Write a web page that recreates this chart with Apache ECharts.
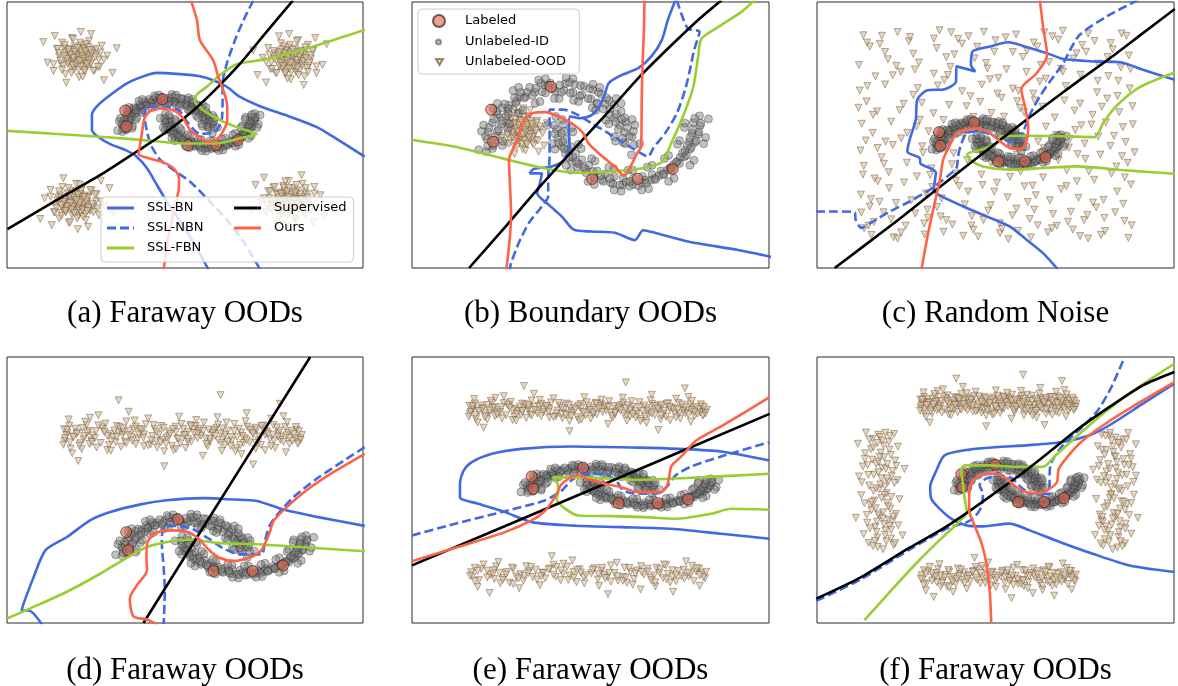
<!DOCTYPE html>
<html><head><meta charset="utf-8">
<script src="https://cdn.jsdelivr.net/npm/echarts@6/dist/echarts.min.js"></script>
<style>html,body{margin:0;padding:0;background:#fff}#chart{width:1178px;height:686px}</style>
</head><body><div id="chart"></div>
<script>
// ---------------- DATA (two-moons coordinates) ----------------
const captions = ['(a) Faraway OODs','(b) Boundary OODs','(c) Random Noise','(d) Faraway OODs','(e) Faraway OODs','(f) Faraway OODs'];
const methodNames = ['SSL-BN','SSL-NBN','SSL-FBN','Supervised','Ours'];

const moonUpper = [[1.05,-0.08],[0.93,0.12],[1.06,0.21],[0.95,0.28],[1.02,0.22],[0.88,0.40],[0.97,0.45],[0.80,0.52],[0.91,0.49],[0.74,0.66],[0.83,0.58],[0.67,0.74],[0.72,0.80],[0.55,0.76],[0.61,0.90],[0.46,0.82],[0.49,0.97],[0.33,0.89],[0.36,1.03],[0.20,0.93],[0.22,1.06],[0.07,0.96],[0.09,1.07],[-0.06,0.95],[-0.13,1.08],[-0.20,0.92],[-0.21,1.05],[-0.36,0.93],[-0.34,1.00],[-0.49,0.86],[-0.47,0.93],[-0.62,0.79],[-0.58,0.86],[-0.73,0.72],[-0.67,0.66],[-0.83,0.68],[-0.77,0.55],[-0.90,0.57],[-0.84,0.42],[-0.97,0.44],[-0.90,0.30],[-1.03,0.29],[-0.94,0.16],[-1.05,0.17],[-0.97,0.02],[-1.06,-0.03],
[0.96,0.10],[1.09,0.08],[0.92,0.19],[1.08,0.30],[0.99,0.36],[0.86,0.33],[0.95,0.52],[0.82,0.45],[0.90,0.62],[0.73,0.57],[0.80,0.73],[0.64,0.66],[0.69,0.84],[0.55,0.74],[0.57,0.93],[0.42,0.83],[0.44,0.99],[0.30,0.87],[0.31,1.04],[0.16,0.92],[0.15,1.09],[0.03,0.93],[0.01,1.05],[-0.09,0.99],[-0.16,1.04],[-0.25,0.94],[-0.27,1.08],[-0.39,0.88],[-0.43,1.01],[-0.51,0.84],[-0.56,0.93],[-0.63,0.76],[-0.65,0.84],[-0.74,0.67],[-0.79,0.74],[-0.74,0.58],[-0.91,0.62],[-0.83,0.47],[-0.95,0.50],[-0.88,0.33],[-1.02,0.36],[-0.93,0.21],[-1.07,0.22],[-0.96,0.07],[-1.04,0.06],
[1.17,0.10],[0.80,0.21],[1.06,0.49],[0.68,0.48],[0.83,0.83],[0.48,0.68],[0.49,1.06],[0.21,0.80],[0.10,1.17],[-0.07,0.83],[-0.30,1.13],[-0.35,0.75],[-0.67,0.96],[-0.59,0.59],[-0.96,0.67],[-0.75,0.35],[-1.13,0.30],[-0.83,0.07],[0.82,0.14],[1.10,0.40],[0.72,0.42],[0.90,0.75],[0.53,0.64],[0.59,1.01],[0.28,0.78],[0.20,1.15],[0.00,0.83],[-0.20,1.15],[-0.28,0.78],[-0.59,1.01],[-0.53,0.64],[-0.90,0.75],[-0.72,0.42],[-1.10,0.40],[-0.82,0.14],[-1.17,0.00]];

const moonLower = [[-0.05,0.54],[0.06,0.41],[-0.04,0.33],[0.07,0.30],[-0.02,0.19],[0.11,0.17],[0.03,0.06],[0.17,0.05],[0.09,-0.06],[0.24,-0.06],[0.18,-0.19],[0.33,-0.16],[0.27,-0.28],[0.43,-0.25],[0.39,-0.37],[0.55,-0.34],[0.51,-0.45],[0.67,-0.39],[0.64,-0.51],[0.80,-0.43],[0.78,-0.55],[0.93,-0.45],[0.92,-0.57],[1.08,-0.46],[1.07,-0.56],[1.21,-0.43],[1.20,-0.53],[1.35,-0.40],[1.33,-0.49],[1.48,-0.34],[1.45,-0.42],[1.61,-0.29],[1.57,-0.33],[1.72,-0.19],[1.66,-0.24],[1.82,-0.11],[1.76,-0.12],[1.90,0.01],[1.83,-0.01],[1.97,0.12],[1.89,0.13],[2.02,0.25],[1.93,0.27],[2.05,0.39],[1.95,0.44],[2.04,0.55],
[0.04,0.49],[-0.07,0.40],[0.03,0.27],[-0.06,0.26],[0.05,0.13],[-0.01,0.11],[0.13,0.00],[0.07,0.02],[0.20,-0.12],[0.14,-0.12],[0.29,-0.23],[0.25,-0.20],[0.39,-0.32],[0.36,-0.29],[0.50,-0.41],[0.49,-0.35],[0.62,-0.48],[0.61,-0.42],[0.75,-0.53],[0.74,-0.46],[0.88,-0.57],[0.97,-0.52],[1.02,-0.59],[1.03,-0.51],[1.15,-0.58],[1.25,-0.49],[1.27,-0.54],[1.39,-0.46],[1.40,-0.48],[1.52,-0.40],[1.51,-0.39],[1.64,-0.32],[1.62,-0.30],[1.75,-0.22],[1.70,-0.20],[1.85,-0.09],[1.79,-0.05],[1.92,0.04],[1.86,0.07],[1.99,0.15],[1.90,0.20],[2.03,0.29],[1.94,0.33],[2.06,0.43],[1.97,0.51],
[-0.17,0.40],[0.20,0.29],[-0.06,0.01],[0.32,0.02],[0.17,-0.33],[0.52,-0.18],[0.51,-0.56],[0.79,-0.30],[0.90,-0.67],[1.07,-0.33],[1.30,-0.63],[1.35,-0.25],[1.67,-0.46],[1.59,-0.09],[1.96,-0.17],[1.75,0.15],[2.13,0.20],[1.83,0.43],[0.18,0.36],[-0.10,0.10],[0.28,0.09],[0.10,-0.25],[0.47,-0.14],[0.42,-0.51],[0.72,-0.28],[0.80,-0.65],[1.00,-0.33],[1.20,-0.65],[1.28,-0.28],[1.59,-0.51],[1.53,-0.14],[1.90,-0.25],[1.72,0.09],[2.10,0.10],[1.82,0.36],[2.17,0.50]];

const labeledPts = [[-0.99,0.65],[-0.96,0.13],[-0.12,1.02],[0.48,-0.47],[1.14,-0.47],[1.65,-0.31]];

// OOD clouds
const oodA_TL = [[-2.04,2.43],[-1.89,2.23],[-2.31,2.50],[-1.74,2.60],[-2.49,2.17],[-2.01,2.77],[-2.19,1.97],[-1.61,2.30],[-2.59,2.65],[-1.84,2.90],[-2.39,1.83],[-1.54,2.75],[-2.15,2.55],[-1.97,2.10],[-2.34,2.33],[-1.71,1.95],[-2.67,1.93],[-1.91,2.50],[-2.47,2.85],[-1.41,2.43],[-2.24,3.00],[-2.07,1.73],[-1.67,2.47],[-2.54,2.40],[-1.81,2.15],[-2.25,2.15],[-1.97,2.65],[-2.41,2.67],[-1.59,2.07],[-2.11,2.25],[-1.29,1.87],[-2.91,2.87],[-1.79,3.13],[-2.37,1.55],[-1.19,2.67],[-2.81,2.20],[-2.03,3.20],[-1.49,1.63],[-2.64,3.07],[-1.94,1.90],
[-2.07,2.39],[-1.94,2.29],[-2.21,2.44],[-1.88,2.49],[-2.33,2.25],[-2.04,2.60],[-2.16,2.13],[-1.81,2.32],[-2.39,2.53],[-1.95,2.67],[-2.27,2.04],[-1.76,2.57],[-2.13,2.47],[-2.02,2.21],[-2.24,2.34],[-1.87,2.11],[-2.45,2.10],[-1.97,2.45],[-2.31,2.65],[-1.69,2.39],[-2.17,2.73],[-2.08,1.97],[-1.83,2.43],[-2.37,2.39],[-1.93,2.23],[-2.19,2.23],[-2.01,2.53],[-2.29,2.55],[-1.79,2.19],[-2.10,2.29],[-1.63,2.07],[-2.57,2.65],[-1.91,2.80],[-2.25,1.87],[-1.57,2.53],[-2.51,2.27],[-2.05,2.85],[-1.74,1.93],[-2.41,2.77],[-1.85,2.70],[-2.15,2.62],[-1.97,2.05],[-2.34,2.17],[-1.90,2.36],[-2.20,2.36],[-2.00,2.41],[-2.12,2.18],[-1.92,2.57],[-2.28,2.47],[-1.84,2.27],[-2.22,2.11],[-2.03,2.08],[-2.36,2.32],[-1.78,2.51],[-2.18,2.56],[-1.98,2.33],[-2.11,2.68],[-1.89,2.16],[-2.42,2.43],[-2.06,2.26],[-1.49,2.30],[-2.67,2.15],[-1.99,1.75],[-2.21,2.97],[-1.67,2.65],[-2.47,1.97],[-1.81,2.61],[-2.32,2.61],[-1.95,1.95],[-2.54,2.51]];
const oodA_TR = [[2.86,2.36],[2.71,2.16],[3.13,2.43],[2.56,2.53],[3.31,2.10],[2.83,2.70],[3.01,1.90],[2.43,2.23],[3.41,2.58],[2.66,2.83],[3.21,1.76],[2.36,2.68],[2.97,2.48],[2.79,2.03],[3.16,2.26],[2.53,1.88],[3.49,1.86],[2.73,2.43],[3.29,2.78],[2.23,2.36],[3.06,2.93],[2.89,1.66],[2.49,2.40],[3.36,2.33],[2.63,2.08],[3.07,2.08],[2.79,2.58],[3.23,2.60],[2.41,2.00],[2.93,2.18],[2.11,1.80],[3.73,2.80],[2.61,3.06],[3.19,1.48],[2.01,2.60],[3.63,2.13],[2.85,3.13],[2.31,1.56],[3.46,3.00],[2.76,1.83],
[2.89,2.32],[2.76,2.22],[3.03,2.37],[2.70,2.42],[3.15,2.18],[2.86,2.53],[2.98,2.06],[2.63,2.25],[3.21,2.46],[2.77,2.60],[3.09,1.97],[2.58,2.50],[2.95,2.40],[2.84,2.14],[3.06,2.27],[2.69,2.04],[3.27,2.03],[2.79,2.38],[3.13,2.58],[2.51,2.32],[2.99,2.66],[2.90,1.90],[2.65,2.36],[3.19,2.32],[2.75,2.16],[3.01,2.16],[2.83,2.46],[3.11,2.48],[2.61,2.12],[2.92,2.22],[2.45,2.00],[3.39,2.58],[2.73,2.73],[3.07,1.80],[2.39,2.46],[3.33,2.20],[2.87,2.78],[2.56,1.86],[3.23,2.70],[2.67,2.63],[2.97,2.55],[2.79,1.98],[3.16,2.10],[2.72,2.29],[3.02,2.29],[2.82,2.34],[2.94,2.11],[2.74,2.50],[3.10,2.40],[2.66,2.20],[3.04,2.04],[2.85,2.01],[3.18,2.25],[2.60,2.44],[3.00,2.49],[2.80,2.26],[2.93,2.61],[2.71,2.09],[3.24,2.36],[2.88,2.19],[2.31,2.23],[3.49,2.08],[2.81,1.68],[3.03,2.90],[2.49,2.58],[3.29,1.90],[2.63,2.54],[3.14,2.54],[2.77,1.88],[3.36,2.44]];
const oodA_BL = [[-2.11,-2.43],[-1.96,-2.23],[-2.38,-2.50],[-1.81,-2.60],[-2.56,-2.17],[-2.08,-2.77],[-2.26,-1.97],[-1.68,-2.30],[-2.66,-2.65],[-1.91,-2.90],[-2.46,-1.83],[-1.61,-2.75],[-2.22,-2.55],[-2.04,-2.10],[-2.41,-2.33],[-1.78,-1.95],[-2.74,-1.93],[-1.98,-2.50],[-2.54,-2.85],[-1.48,-2.43],[-2.31,-3.00],[-2.14,-1.73],[-1.74,-2.47],[-2.61,-2.40],[-1.88,-2.15],[-2.32,-2.15],[-2.04,-2.65],[-2.48,-2.67],[-1.66,-2.07],[-2.18,-2.25],[-1.36,-1.87],[-2.98,-2.87],[-1.86,-3.13],[-2.44,-1.55],[-1.26,-2.67],[-2.88,-2.20],[-2.10,-3.20],[-1.56,-1.63],[-2.71,-3.07],[-2.01,-1.90],
[-2.14,-2.39],[-2.01,-2.29],[-2.28,-2.44],[-1.95,-2.49],[-2.40,-2.25],[-2.11,-2.60],[-2.23,-2.13],[-1.88,-2.32],[-2.46,-2.53],[-2.02,-2.67],[-2.34,-2.04],[-1.83,-2.57],[-2.20,-2.47],[-2.09,-2.21],[-2.31,-2.34],[-1.94,-2.11],[-2.52,-2.10],[-2.04,-2.45],[-2.38,-2.65],[-1.76,-2.39],[-2.24,-2.73],[-2.15,-1.97],[-1.90,-2.43],[-2.44,-2.39],[-2.00,-2.23],[-2.26,-2.23],[-2.08,-2.53],[-2.36,-2.55],[-1.86,-2.19],[-2.17,-2.29],[-1.70,-2.07],[-2.64,-2.65],[-1.98,-2.80],[-2.32,-1.87],[-1.64,-2.53],[-2.58,-2.27],[-2.12,-2.85],[-1.81,-1.93],[-2.48,-2.77],[-1.92,-2.70],[-2.22,-2.62],[-2.04,-2.05],[-2.41,-2.17],[-1.97,-2.36],[-2.27,-2.36],[-2.07,-2.41],[-2.19,-2.18],[-1.99,-2.57],[-2.35,-2.47],[-1.91,-2.27],[-2.29,-2.11],[-2.10,-2.08],[-2.43,-2.32],[-1.85,-2.51],[-2.25,-2.56],[-2.05,-2.33],[-2.18,-2.68],[-1.96,-2.16],[-2.49,-2.43],[-2.13,-2.26],[-1.56,-2.30],[-2.74,-2.15],[-2.06,-1.75],[-2.28,-2.97],[-1.74,-2.65],[-2.54,-1.97],[-1.88,-2.61],[-2.39,-2.61],[-2.02,-1.95],[-2.61,-2.51]];
const oodA_BR = [[2.81,-2.33],[2.66,-2.13],[3.08,-2.40],[2.51,-2.50],[3.26,-2.07],[2.78,-2.67],[2.96,-1.87],[2.38,-2.20],[3.36,-2.55],[2.61,-2.80],[3.16,-1.73],[2.31,-2.65],[2.92,-2.45],[2.74,-2.00],[3.11,-2.23],[2.48,-1.85],[3.44,-1.83],[2.68,-2.40],[3.24,-2.75],[2.18,-2.33],[3.01,-2.90],[2.84,-1.63],[2.44,-2.37],[3.31,-2.30],[2.58,-2.05],[3.02,-2.05],[2.74,-2.55],[3.18,-2.57],[2.36,-1.97],[2.88,-2.15],[2.06,-1.77],[3.68,-2.77],[2.56,-3.03],[3.14,-1.45],[1.96,-2.57],[3.58,-2.10],[2.80,-3.10],[2.26,-1.53],[3.41,-2.97],[2.71,-1.80],
[2.84,-2.29],[2.71,-2.19],[2.98,-2.34],[2.65,-2.39],[3.10,-2.15],[2.81,-2.50],[2.93,-2.03],[2.58,-2.22],[3.16,-2.43],[2.72,-2.57],[3.04,-1.94],[2.53,-2.47],[2.90,-2.37],[2.79,-2.11],[3.01,-2.24],[2.64,-2.01],[3.22,-2.00],[2.74,-2.35],[3.08,-2.55],[2.46,-2.29],[2.94,-2.63],[2.85,-1.87],[2.60,-2.33],[3.14,-2.29],[2.70,-2.13],[2.96,-2.13],[2.78,-2.43],[3.06,-2.45],[2.56,-2.09],[2.87,-2.19],[2.40,-1.97],[3.34,-2.55],[2.68,-2.70],[3.02,-1.77],[2.34,-2.43],[3.28,-2.17],[2.82,-2.75],[2.51,-1.83],[3.18,-2.67],[2.62,-2.60],[2.92,-2.52],[2.74,-1.95],[3.11,-2.07],[2.67,-2.26],[2.97,-2.26],[2.77,-2.31],[2.89,-2.08],[2.69,-2.47],[3.05,-2.37],[2.61,-2.17],[2.99,-2.01],[2.80,-1.98],[3.13,-2.22],[2.55,-2.41],[2.95,-2.46],[2.75,-2.23],[2.88,-2.58],[2.66,-2.06],[3.19,-2.33],[2.83,-2.16],[2.26,-2.20],[3.44,-2.05],[2.76,-1.65],[2.98,-2.87],[2.44,-2.55],[3.24,-1.87],[2.58,-2.51],[3.09,-2.51],[2.72,-1.85],[3.31,-2.41]];
const oodB = [[-0.52,0.33],[-0.46,0.24],[-0.63,0.36],[-0.40,0.40],[-0.70,0.21],[-0.51,0.48],[-0.58,0.12],[-0.35,0.27],[-0.74,0.43],[-0.44,0.54],[-0.66,0.06],[-0.32,0.47],[-0.56,0.38],[-0.49,0.18],[-0.64,0.28],[-0.39,0.11],[-0.77,0.10],[-0.47,0.36],[-0.69,0.52],[-0.27,0.33],[-0.60,0.58],[-0.53,0.01],[-0.37,0.34],[-0.72,0.31],[-0.43,0.20],[-0.60,0.20],[-0.49,0.43],[-0.67,0.43],[-0.34,0.16],[-0.55,0.25],[-0.22,0.07],[-0.87,0.52],[-0.42,0.64],[-0.65,-0.07],[-0.18,0.43],[-0.83,0.22],[-0.52,0.67],[-0.30,-0.03],[-0.76,0.61],[-0.48,0.09],
[-0.53,0.31],[-0.47,0.26],[-0.60,0.34],[-0.44,0.36],[-0.66,0.24],[-0.52,0.42],[-0.58,0.18],[-0.40,0.28],[-0.69,0.38],[-0.47,0.45],[-0.63,0.14],[-0.38,0.40],[-0.56,0.35],[-0.51,0.22],[-0.62,0.29],[-0.43,0.17],[-0.72,0.17],[-0.48,0.34],[-0.65,0.44],[-0.34,0.31],[-0.58,0.48],[-0.54,0.10],[-0.41,0.33],[-0.68,0.31],[-0.46,0.23],[-0.59,0.23],[-0.50,0.38],[-0.64,0.39],[-0.39,0.21],[-0.55,0.26],[-0.31,0.15],[-0.78,0.44],[-0.45,0.52],[-0.62,0.05],[-0.28,0.38],[-0.75,0.25],[-0.52,0.54],[-0.37,0.08],[-0.70,0.50],[-0.42,0.47],[-0.57,0.43],[-0.48,0.14],[-0.67,0.20],[-0.45,0.30],[-0.60,0.30],[-0.50,0.32],[-0.56,0.21],[-0.46,0.40],[-0.64,0.35],[-0.42,0.25],[-0.61,0.17],[-0.51,0.16],[-0.68,0.28],[-0.39,0.37],[-0.59,0.40],[-0.49,0.28],[-0.55,0.46],[-0.44,0.20],[-0.71,0.33],[-0.53,0.25],[-0.24,0.27],[-0.83,0.19],[-0.49,-0.01],[-0.60,0.60],[-0.33,0.44],[-0.73,0.10],[-0.40,0.42],[-0.66,0.42],[-0.47,0.09],[-0.77,0.37]];
const oodC = [[-2.71,3.92],[0.45,-1.28],[2.93,2.17],[-1.36,-2.84],[1.82,4.31],[-0.58,0.73],[3.41,-0.66],[-2.18,1.05],[0.97,-3.12],[2.26,0.38],
[-0.11,3.47],[-2.93,-1.74],[1.38,1.86],[3.72,3.58],[-1.74,4.12],[0.23,-2.35],[2.61,-2.71],[-2.42,-0.31],[1.05,0.12],[-0.86,2.64],
[3.15,1.02],[-1.21,-0.98],[0.68,3.05],[-2.57,2.78],[2.04,-1.53],[-0.39,-3.31],[1.67,-0.29],[3.58,-2.09],[-1.93,0.41],[0.12,4.48],
[-2.85,-3.02],[2.42,3.66],[-0.74,1.69],[1.21,-2.02],[3.03,-3.28],[-1.52,2.33],[0.84,2.31],[-2.26,3.43],[2.79,0.94],[-0.27,-1.62],
[1.93,-2.93],[-1.05,3.86],[3.64,0.27],[-2.64,0.62],[0.31,1.38],[2.18,-0.82],[-1.68,-1.95],[0.59,-0.64],[3.27,4.05],[-0.95,-2.57],
[-2.37,-2.41],[1.45,3.92],[2.86,-1.17],[-0.52,4.21],[3.81,1.64],[-1.87,1.73],[0.06,-0.97],[2.37,1.47],[-2.98,3.21],[1.13,-1.42],
[-0.63,-0.16],[3.46,2.61],[-1.41,0.11],[0.92,4.38],[2.71,-3.41],[-2.12,-3.37],[1.66,0.86],[-0.21,2.02],[3.09,-1.94],[-2.79,1.82],
[0.38,3.72],[2.52,2.84],[-1.59,3.04],[3.77,-1.35],[-0.88,-3.16],[1.29,-3.37],[-2.51,-1.23],[2.08,4.52],[0.71,-1.84],[-1.13,1.37],
[3.35,0.51],[-2.02,4.47],[1.51,2.58],[-0.35,-2.11],[2.95,3.27],[-2.86,-0.64],[0.17,0.28],[1.84,-2.48],[-1.28,-2.31],[3.61,-2.74],
[-0.71,3.14],[2.23,0.06],[-2.33,2.47],[0.52,-2.83],[3.18,1.93],[-1.79,-0.52],[1.02,1.57],[-0.04,3.91],[2.64,-0.37],[-2.68,-1.91],
[1.74,3.33],[-1.16,-1.45],[3.52,3.12],[-0.46,0.97],[0.83,-2.53],[2.47,-1.86],[-2.14,0.16],[1.36,4.07],[-0.98,4.54],[3.86,-0.12],
[-2.46,4.02],[0.27,2.67],[2.91,-2.23],[-1.47,1.12],[1.59,-1.08],[-0.19,-2.92],[3.29,-0.94],[-2.91,0.97],[0.64,0.57],[2.15,2.41],
[-1.02,2.43],[1.88,1.21],[-2.61,-2.78],[3.66,4.33],[0.09,-1.37],[-1.63,3.64],[2.56,3.98],[-0.57,-1.21],[1.18,2.95],[3.11,-2.63],
[-2.24,-0.88],[0.73,-3.44],[2.33,-3.07],[-0.31,1.64],[1.47,0.29],[-1.35,-3.26],[3.74,2.32],[-2.77,2.41],[0.41,4.16],[2.82,1.31],
[-0.81,-2.71],[1.97,-0.42],[-1.94,2.96],[3.43,-1.62],[0.18,3.29],[-2.53,1.44],[1.26,-2.67],[2.71,4.41],[-1.25,0.68],[0.94,-0.21],
[3.57,0.84],[-2.06,-2.06],[0.56,1.96],[2.04,3.07],[-0.67,-0.58],[1.71,-3.18],[-2.87,4.35],[3.21,2.79],[-1.54,-1.04],[0.29,-2.14],
[2.39,0.73],[-0.14,-3.08],[1.62,4.46],[-2.32,0.29],[3.01,-0.21],[-1.12,2.88],[0.77,-1.06],[2.69,-2.52],[-2.71,-2.19],[1.09,3.52],
[-0.42,4.03],[3.79,-2.91],[-1.82,-2.92],[0.98,2.23],[2.51,1.74],[-2.94,-0.05],[1.41,-1.76],[-0.93,0.33],[3.32,3.81],[0.03,1.81],
[-2.52,0.04],[-1.71,4.28],[-0.93,-1.88],[0.36,0.89],[1.24,-0.65],[2.08,2.96],[3.13,-3.13],[-2.96,2.24],[-0.18,-2.56],[2.87,4.13],
[-2.23,-1.49],[-1.42,1.77],[-0.61,3.62],[0.52,-3.21],[1.58,1.62],[2.43,-1.23],[3.48,1.41],[-2.74,-2.92],[0.07,2.46],[1.19,3.77],
[-2.05,3.18],[-1.18,-0.74],[-0.37,0.51],[0.81,-0.38],[1.76,-1.95],[2.62,0.21],[3.69,-0.52],[-2.63,1.31],[-0.02,-3.34],[2.21,-2.77],
[-2.88,-0.97],[-1.93,-3.18],[-0.77,2.83],[0.29,-0.52],[1.35,2.12],[2.95,2.61],[3.54,4.42],[-1.55,0.86],[0.66,4.27],[1.92,0.54],
[-2.41,4.33],[-1.27,-2.62],[-0.49,-1.41],[0.62,1.24],[1.46,-2.91],[2.34,3.46],[3.82,0.95],[-2.18,-2.68],[-0.88,1.11],[2.73,-0.85],
[-2.99,1.58],[-1.63,2.07],[-0.26,4.31],[0.93,-2.27],[1.61,0.03],[2.51,-3.32],[3.26,0.12],[-2.36,-0.56],[-1.04,-2.21],[0.21,3.08],
[-2.67,-3.28],[-1.86,-1.27],[-0.69,4.46],[0.46,2.12],[1.33,-1.39],[2.12,1.86],[3.38,-2.41],[-1.39,-0.14],[0.84,3.71],[2.83,-2.04],
[-2.14,2.82],[-1.06,0.52],[0.11,-2.71],[1.03,-0.86],[1.97,4.18],[3.05,1.62],[3.76,3.06],[-2.81,0.33],[-0.57,-0.93],[2.45,-0.19],
[-2.47,-2.01],[-1.49,3.31],[-0.14,1.23],[0.74,0.36],[1.84,-0.17],[2.66,3.72],[3.62,-1.08],[-1.97,1.49],[0.38,-1.62],[1.54,3.21],
[-2.78,4.07],[-1.31,-1.69],[-0.42,2.21],[0.57,-3.05],[1.12,1.41],[2.28,-2.39],[3.44,2.03],[-2.02,-3.41],[-0.81,3.51],[2.96,0.48],
[-2.59,-1.12],[-1.78,0.62],[-0.05,0.83],[1.66,2.69],[2.54,0.91],[3.71,-3.39],[-1.12,4.22],[0.18,-0.33],[1.37,-2.31],[-2.33,3.71],
[-0.66,-2.88],[0.95,1.83],[2.17,-1.41],[3.19,3.52],[-1.58,-2.46],[0.48,2.72],[-2.92,-2.42],[1.81,-3.02],[3.55,-0.27],[-0.29,-0.42]];
const bandTop = [[-1.98,3.51],[-1.42,3.22],[-0.87,3.63],[-0.31,3.38],[0.24,3.57],[0.79,3.29],[1.35,3.46],[1.88,3.60],[-1.71,3.33],[-1.15,3.71],
[-0.58,3.18],[-0.02,3.44],[0.53,3.66],[1.09,3.24],[1.62,3.39],[-2.03,3.28],[-1.27,3.49],[-0.73,3.55],[0.38,3.12],[0.95,3.52],
[1.49,3.74],[-1.85,3.63],[-0.44,3.47],[0.11,3.27],[0.66,3.41],[1.21,3.61],[1.76,3.19],[-1.56,3.44],[-1.01,3.26],[-0.16,3.69],
[-1.93,3.06],[-1.34,3.78],[-0.79,3.35],[-0.22,3.14],[0.32,3.81],[0.87,3.07],[1.43,3.33],[1.93,3.37],[-1.62,3.57],[-1.08,3.11],
[-0.51,3.62],[0.05,3.54],[0.61,3.22],[1.15,3.47],[1.69,3.68],[-1.77,3.21],[-1.21,3.39],[-0.66,3.76],[0.46,3.48],[1.01,3.36],
[1.57,3.53],[-1.49,3.09],[-0.94,3.58],[-0.37,3.31],[0.18,3.71],[0.72,3.58],[1.28,3.16],[1.83,3.48],[-2.00,3.45],[-0.08,3.21],
[-1.38,3.62],[-0.83,3.19],[-0.27,3.55],[0.27,3.43],[0.83,3.77],[1.38,3.54],[1.91,3.24],[-1.66,3.74],[-1.12,3.52],[0.56,3.31],
[-0.55,3.42],[0.01,3.08],[1.05,3.69],[1.61,3.31],[-1.89,3.41],[-0.99,3.84],[-0.47,3.09],[0.14,3.62],[0.68,3.46],[1.24,3.29],
[1.74,3.51],[-1.58,3.29],[-1.05,3.45],[-0.13,3.35],[0.42,3.26],[0.91,3.63],[1.52,3.08],[-1.81,3.52],[-0.69,3.47],[1.97,3.45],
[-1.28,3.16],[-0.40,3.71],[0.21,3.49],[0.77,3.14],[1.32,3.72],[1.86,3.34],[-1.95,3.72],[-0.90,3.39],[0.49,3.59],[1.12,3.58],
[-1.60,3.95],[-0.35,2.98],[0.55,3.96],[1.70,2.95],[-0.95,4.12],[0.30,2.85],[1.45,3.92],[-1.90,2.92],[-0.10,3.98],[0.95,2.90],
[-1.31,3.02],[-0.62,3.93],[0.09,3.74],[0.62,2.99],[1.19,3.05],[1.66,3.99],[-1.74,3.05],[-0.19,3.01],[1.04,4.08],[-1.46,4.02],
[0.35,3.35],[-0.77,3.62],[1.57,3.41],[-1.17,3.24],[0.70,3.81],[-0.48,3.28],[1.79,3.57],[-2.04,3.62],[0.97,3.42],[-0.03,3.63],
[-1.12,4.45],[0.60,4.60],[-0.35,2.55],[1.60,4.35],[-1.80,2.70],[1.15,2.60],
[-2.02,3.36],[-1.61,3.19],[-1.19,3.58],[-0.78,3.47],[-0.36,3.66],[0.05,3.25],[0.47,3.52],[0.88,3.40],[1.29,3.71],[1.71,3.44],
[-1.83,3.48],[-1.40,3.67],[-0.99,3.21],[-0.57,3.30],[-0.15,3.54],[0.26,3.63],[0.67,3.17],[1.09,3.61],[1.50,3.29],[1.92,3.56],
[-1.94,3.24],[-1.52,3.36],[-1.10,3.68],[-0.69,3.13],[-0.27,3.42],[0.15,3.51],[0.56,3.75],[0.98,3.22],[1.40,3.49],[1.81,3.28],
[-1.73,3.65],[-1.31,3.43],[-0.89,3.29],[-0.48,3.53],[-0.06,3.77],[0.36,3.19],[0.77,3.39],[1.19,3.66],[1.60,3.58],[1.95,3.31],
[-2.05,3.17],[-1.65,3.52],[-1.24,3.27],[-0.83,3.70],[-0.41,3.24],[0.00,3.45],[0.42,3.33],[0.83,3.56],[1.25,3.41],[1.66,3.25],
[-1.88,3.39],[-1.46,3.73],[-1.04,3.55],[-0.62,3.15],[-0.20,3.62],[0.21,3.36],[0.63,3.64],[1.04,3.30],[1.45,3.13],[1.87,3.68],
[-1.99,3.60],[-1.57,3.25],[-1.15,3.40],[-0.74,3.61],[-0.32,3.20],[0.10,3.70],[0.51,3.43],[0.93,3.16],[1.34,3.57],[1.76,3.37],
[-1.78,3.14],[-1.36,3.54],[-0.94,3.44],[-0.53,3.74],[-0.11,3.34],[0.31,3.57],[0.72,3.26],[1.14,3.50],[1.55,3.67],[1.90,3.20],
[-1.68,3.83],[-0.85,3.87],[0.19,3.88],[1.02,3.85],[1.72,3.82],[-1.25,3.00],[-0.15,3.05],[0.85,2.98],[1.35,3.01],[-1.96,3.90],
[-1.50,3.56],[-0.70,3.37],[0.40,3.61],[1.20,3.22],[-0.25,3.48],[0.60,3.50],[-1.05,3.64],[1.48,3.46],[-1.70,3.42],[0.05,3.34]];
const bandBottom = [[-2.01,-3.38],[-1.46,-3.61],[-0.92,-3.27],[-0.35,-3.52],[0.19,-3.31],[0.74,-3.66],[1.31,-3.44],[1.84,-3.22],[-1.69,-3.49],[-1.13,-3.73],
[-0.57,-3.16],[0.02,-3.42],[0.56,-3.58],[1.12,-3.19],[1.66,-3.55],[-1.88,-3.71],[-1.30,-3.24],[-0.76,-3.63],[0.35,-3.09],[0.91,-3.47],
[1.45,-3.76],[-1.59,-3.13],[-0.46,-3.44],[0.13,-3.68],[0.68,-3.36],[1.23,-3.62],[1.79,-3.35],[-1.99,-3.56],[-1.03,-3.33],[-0.18,-3.25],
[-1.80,-3.05],[-1.25,-3.56],[-0.81,-3.39],[-0.23,-3.79],[0.29,-3.58],[0.86,-3.12],[1.39,-3.29],[1.94,-3.63],[-1.52,-3.84],[-0.62,-3.06],
[0.07,-3.21],[0.62,-3.82],[1.17,-3.40],[1.72,-3.10],[-1.74,-3.31],[-1.18,-3.46],[-0.68,-3.22],[0.47,-3.73],[1.02,-3.60],[1.58,-3.27],
[-1.41,-3.37],[-0.97,-3.58],[-0.39,-3.14],[0.23,-3.49],[0.79,-3.30],[1.35,-3.81],[1.89,-3.42],[-1.95,-3.19],[-0.11,-3.58],[0.97,-3.23],
[-1.62,-3.66],[-0.50,-3.71],[0.41,-3.41],[1.54,-3.55],[-1.08,-3.12],[0.58,-3.18],[-0.28,-3.37],[1.28,-3.08],[-1.36,-3.82],[1.75,-3.74],
[-0.85,-3.92],[0.15,-3.95],[1.10,-3.97],[-1.55,-2.95],[0.45,-2.98],[1.62,-2.92],[-1.90,-4.00],[-0.30,-2.88],[0.85,-4.10],[-1.20,-4.05],
[0.30,-4.30],[-0.65,-2.70],[1.40,-4.20],[-1.70,-4.25],[1.85,-3.95],
[-2.03,-3.52],[-1.62,-3.29],[-1.21,-3.64],[-0.79,-3.41],[-0.37,-3.70],[0.04,-3.28],[0.46,-3.55],[0.87,-3.37],[1.29,-3.68],[1.70,-3.45],
[-1.84,-3.24],[-1.42,-3.47],[-1.00,-3.16],[-0.58,-3.57],[-0.16,-3.39],[0.25,-3.62],[0.66,-3.20],[1.08,-3.51],[1.49,-3.33],[1.91,-3.58],
[-1.95,-3.75],[-1.53,-3.40],[-1.11,-3.53],[-0.70,-3.26],[-0.28,-3.61],[0.14,-3.46],[0.55,-3.74],[0.97,-3.35],[1.39,-3.56],[1.80,-3.21],
[-1.74,-3.60],[-1.32,-3.18],[-0.90,-3.68],[-0.49,-3.30],[-0.07,-3.50],[0.35,-3.77],[0.76,-3.43],[1.18,-3.25],[1.59,-3.64],[1.96,-3.36],
[-1.64,-3.43],[-0.83,-3.54],[0.20,-3.19],[1.03,-3.71],[1.66,-3.39],[-1.30,-3.87],[-0.10,-3.85],[0.72,-3.90],[-0.45,-3.02],[1.25,-3.05],
[-1.90,-3.32],[-1.05,-3.42],[-0.22,-3.29],[0.60,-3.60],[1.45,-3.48],[-1.48,-3.70],[-0.62,-3.48],[0.32,-3.40],[1.10,-3.80],[1.85,-3.50]];
const bandLeft = [[-3.12,2.21],[-2.85,1.93],[-3.31,1.64],[-2.97,1.32],[-3.18,1.05],[-2.76,0.77],[-3.05,0.48],[-3.36,0.19],[-2.91,-0.12],[-3.22,-0.41],
[-2.82,-0.73],[-3.09,-1.02],[-3.41,-1.30],[-2.94,-1.60],[-3.15,-1.89],[-2.73,-2.18],[-3.27,2.05],[-2.99,1.78],[-3.46,1.47],[-2.69,1.18],
[-3.03,0.90],[-3.24,0.62],[-2.88,0.33],[-3.10,0.04],[-2.79,-0.27],[-3.33,-0.57],[-3.00,-0.88],[-2.86,-1.17],[-3.20,-1.46],[-3.50,-1.75],
[-2.92,-2.04],[-3.14,-2.26],[-3.52,0.95],[-2.63,0.40],[-3.56,-0.20],[-2.61,-1.40],[-3.44,2.30],[-2.72,2.24],[-3.06,1.50],[-2.90,-0.50],
[-3.28,1.22],[-2.95,0.15],[-3.16,-1.25],[-3.37,-2.10],[-2.80,-1.92],[-3.08,2.12],[-2.67,-0.95],[-3.62,0.55],[-3.25,-0.02],[-2.84,1.62],
[-3.70,-1.10],[-2.45,0.85],[-3.65,1.85],[-2.50,-1.80],[-3.00,-2.35],[-3.12,0.72],[-2.98,-1.35],[-3.30,-0.80],[-2.78,0.58],[-3.40,1.00],
[-3.02,1.98],[-3.25,1.71],[-2.80,1.41],[-3.11,1.14],[-2.93,0.85],[-3.38,0.61],[-2.71,0.29],[-3.18,0.08],[-2.97,-0.19],[-3.29,-0.47],
[-2.87,-0.64],[-3.13,-0.96],[-2.76,-1.24],[-3.34,-1.52],[-2.95,-1.78],[-3.21,-2.02],[-2.83,2.16],[-3.47,1.25],[-2.66,0.97],[-3.04,-0.31],
[-3.42,-0.98],[-2.69,-2.11],[-3.09,1.33],[-2.89,1.05],[-3.55,0.32],[-2.58,-0.36],[-3.17,-1.66],[-2.84,-1.43],[-3.35,2.01],[-2.74,-1.05],
[-3.07,0.23],[-3.26,-2.22],[-2.90,0.47],[-3.19,-0.72],[-2.62,1.74],[-3.48,-0.52],[-2.94,2.29],[-3.01,-1.12],[-3.15,1.88],[-2.79,-1.58]];
const bandRight = [[2.81,2.18],[3.08,1.90],[2.63,1.61],[2.95,1.35],[3.20,1.02],[2.74,0.75],[3.01,0.45],[3.29,0.16],[2.86,-0.15],[3.13,-0.44],
[2.69,-0.70],[2.97,-1.05],[3.24,-1.33],[2.78,-1.63],[3.05,-1.86],[2.66,-2.20],[3.17,2.02],[2.91,1.75],[3.35,1.44],[2.58,1.20],
[2.99,0.88],[3.15,0.60],[2.72,0.31],[3.05,0.02],[2.83,-0.30],[3.27,-0.55],[2.93,-0.91],[2.61,-1.20],[3.10,-1.48],[3.38,-1.73],
[2.80,-2.05],[3.02,-2.28],[3.42,0.92],[2.50,0.42],[3.45,-0.18],[2.55,-1.42],[3.30,2.28],[2.62,2.22],[2.92,1.52],[2.77,-0.52],
[3.18,1.24],[2.86,0.12],[3.08,-1.23],[3.22,-2.12],[2.70,-1.95],[2.98,2.10],[2.57,-0.97],[3.50,0.58],[3.14,-0.03],[2.74,1.60],
[3.55,-1.10],[2.40,0.82],[3.50,1.83],[2.45,-1.78],[2.90,-2.35],[3.04,0.70],[2.88,-1.36],[3.22,-0.78],[2.68,0.56],[3.32,1.00],
[2.88,1.99],[3.12,1.70],[2.70,1.42],[3.01,1.13],[2.82,0.86],[3.26,0.62],[2.60,0.30],[3.09,0.07],[2.87,-0.20],[3.19,-0.46],
[2.76,-0.65],[3.03,-0.95],[2.65,-1.25],[3.23,-1.53],[2.85,-1.79],[3.11,-2.03],[2.72,2.17],[3.37,1.26],[2.55,0.96],[2.94,-0.32],
[3.33,-0.99],[2.59,-2.12],[2.98,1.34],[2.79,1.04],[3.44,0.33],[2.48,-0.35],[3.06,-1.67],[2.73,-1.44],[3.25,2.02],[2.64,-1.06],
[2.96,0.24],[3.15,-2.23],[2.80,0.48],[3.09,-0.73],[2.52,1.75],[3.38,-0.51],[2.84,2.29],[2.91,-1.12],[3.05,1.88],[2.69,-1.59]];

// Decision boundaries per panel: SSL-BN, SSL-NBN, SSL-FBN, Supervised, Ours
const A_BN = [[4.62,-0.85],[3.88,-0.20],[3.49,0.12],[2.87,0.45],[2.17,0.79],[1.70,1.09],[1.39,1.42],[1.07,1.63],[0.76,1.76],[0.30,1.83],[-0.25,1.87],[-0.56,1.76],[-0.95,1.53],[-1.34,1.15],[-1.65,0.79],[-1.77,0.50],[-1.77,0.02],[-1.61,-0.22],[-1.34,-0.44],[-0.99,-0.63],[-0.72,-0.85],[-0.48,-1.22],[-0.25,-1.76],[-0.02,-2.30],[0.22,-2.79],[0.53,-3.44],[0.96,-4.51]];
const A_NBN = [[2.01,4.22],[1.78,3.58],[1.58,2.93],[1.39,2.17],[1.29,1.53],[1.29,0.99],[1.27,0.34],[1.11,-0.04],[0.76,-0.11],[0.49,0.23],[0.26,0.66],[-0.09,0.77],[-0.48,0.77],[-0.54,0.50],[-0.48,-0.04],[-0.37,-0.52],[-0.17,-0.95],[0.14,-1.28],[0.53,-1.66],[0.92,-2.20],[1.39,-2.90],[1.78,-3.60],[2.17,-4.51]];
const A_FBN = [[-3.75,-0.01],[-1.57,-0.20],[-0.56,-0.31],[0.45,-0.42],[1.15,-0.42],[1.70,-0.25],[2.09,-0.11],[1.70,0.07],[1.23,0.34],[0.84,0.66],[0.65,0.93],[0.65,1.09],[0.92,1.42],[1.23,1.80],[1.62,2.15],[2.24,2.30],[3.10,2.60],[3.88,2.93],[4.62,3.27]];
const A_SUP = [[-3.75,-3.20],[-2.59,-2.25],[-1.57,-1.44],[-0.72,-0.68],[-0.02,-0.04],[0.61,0.66],[1.15,1.37],[1.70,2.17],[2.32,3.20],[2.94,4.22]];
const A_OURS = [[0.55,4.22],[0.69,3.58],[0.76,2.93],[1.07,2.28],[1.19,1.74],[1.32,1.26],[1.40,0.77],[1.40,0.34],[1.32,0.02],[1.15,-0.29],[0.96,-0.36],[0.75,-0.22],[0.53,0.02],[0.37,0.39],[0.16,0.64],[-0.17,0.72],[-0.40,0.64],[-0.54,0.39],[-0.60,-0.09],[-0.65,-0.52],[-0.68,-0.76],[-0.44,-0.90],[-0.09,-1.04],[0.14,-1.22],[0.27,-1.55],[0.26,-1.93],[0.16,-2.57],[0.02,-3.44],[-0.09,-4.51]];

const B_BN = [[1.69,2.42],[1.58,2.10],[1.49,1.77],[1.34,1.51],[1.15,1.32],[0.91,1.21],[0.72,1.08],[0.66,0.89],[0.58,0.69],[0.47,0.56],[0.30,0.51],[0.16,0.54],[0.14,0.32],[0.15,0.05],[0.08,-0.16],[-0.11,-0.27],[-0.37,-0.31],[-0.43,-0.38],[-0.25,-0.38],[-0.28,-0.54],[-0.32,-0.70],[-0.15,-0.89],[0.04,-1.08],[0.21,-1.29],[0.47,-1.32],[0.81,-1.34],[1.10,-1.46],[1.22,-1.30],[1.39,-1.34],[1.87,-1.48],[2.60,-1.62],[3.08,-1.73]];
const B_NBN = [[1.71,2.42],[1.87,1.96],[2.04,1.91],[1.96,1.61],[1.90,1.29],[1.83,0.97],[1.71,0.59],[1.54,0.27],[1.37,0.03],[1.29,-0.11],[1.15,-0.03],[0.91,0.13],[0.67,0.30],[0.47,0.43],[0.28,0.56],[0.06,0.65],[-0.14,0.65],[-0.14,0.27],[-0.14,-0.11],[-0.16,-0.43],[-0.16,-0.75],[-0.25,-0.91],[-0.44,-1.18],[-0.59,-1.51],[-0.70,-1.83],[-0.72,-1.94]];
const B_FBN = [[-2.14,0.16],[-1.51,0.05],[-0.78,-0.15],[-0.20,-0.30],[0.28,-0.37],[0.76,-0.35],[1.15,-0.31],[1.49,-0.20],[1.63,0.11],[1.80,0.54],[1.95,1.02],[2.02,1.51],[2.07,1.80],[2.36,2.02],[2.65,2.23],[2.84,2.42]];
const B_SUP = [[-1.31,-1.91],[-0.78,-1.24],[-0.30,-0.62],[0.18,-0.03],[0.67,0.56],[1.15,1.16],[1.63,1.69],[2.02,2.10],[2.36,2.42]];
const B_OURS = [[1.24,2.42],[1.23,1.88],[1.21,1.34],[1.20,0.81],[1.19,0.05],[1.13,-0.06],[1.05,-0.24],[0.94,-0.42],[0.81,-0.27],[0.62,-0.10],[0.43,0.10],[0.34,0.28],[0.18,0.43],[-0.01,0.54],[-0.20,0.61],[-0.37,0.60],[-0.52,0.46],[-0.61,0.16],[-0.73,-0.16],[-0.72,-0.48],[-0.70,-1.02],[-0.72,-1.45],[-0.77,-1.94]];

const C_BN = [[4.86,2.65],[4.07,3.03],[3.54,3.31],[2.83,3.35],[2.09,3.44],[1.80,3.60],[1.26,3.86],[0.72,4.08],[0.27,3.92],[-0.16,3.73],[-0.20,3.22],[-0.09,2.97],[-0.56,3.16],[-0.57,2.58],[-0.85,2.29],[-1.30,2.24],[-1.53,1.89],[-1.57,1.12],[-1.72,0.36],[-1.78,-0.09],[-1.47,-0.34],[-1.45,-0.55],[-1.07,-0.89],[-1.12,-1.55],[-1.01,-1.74],[-0.39,-2.19],[0.19,-2.57],[0.76,-2.95],[1.18,-3.46],[1.59,-3.97],[1.96,-4.60]];
const C_NBN = [[3.95,5.70],[3.16,5.06],[2.50,4.37],[2.29,3.87],[2.09,3.28],[1.76,2.58],[1.51,2.01],[1.26,1.31],[1.10,0.68],[0.93,0.30],[0.60,0.36],[0.31,0.55],[0.02,0.68],[-0.31,0.61],[-0.46,0.10],[-0.52,-0.28],[-0.56,-0.72],[-0.89,-1.17],[-1.22,-1.55],[-1.72,-2.00],[-2.21,-2.38],[-2.67,-2.80],[-2.92,-3.01],[-3.06,-2.70],[-3.08,-2.41],[-3.54,-2.38],[-4.07,-2.38]];
const C_FBN = [[4.86,2.93],[3.99,2.37],[3.41,1.65],[3.08,0.99],[2.87,0.46],[2.09,0.49],[1.26,0.51],[0.52,0.49],[0.45,0.23],[0.10,0.00],[-0.29,-0.19],[-0.23,-0.40],[0.10,-0.66],[0.77,-0.79],[1.59,-0.72],[2.42,-0.66],[3.66,-0.81],[4.86,-0.94]];
const C_SUP = [[-3.58,-4.54],[-2.13,-2.85],[-1.06,-1.55],[-0.06,-0.35],[0.77,0.64],[1.59,1.60],[2.42,2.55],[3.25,3.47],[4.07,4.43],[4.86,5.35]];
const C_OURS = [[1.51,5.70],[1.59,4.68],[1.69,3.60],[1.43,2.90],[1.05,2.29],[1.14,1.63],[1.22,0.87],[1.19,0.36],[1.05,0.00],[0.77,0.04],[0.52,0.30],[0.27,0.61],[-0.02,0.80],[-0.31,0.76],[-0.56,0.61],[-0.74,0.10],[-0.89,-0.41],[-0.97,-1.17],[-1.10,-2.06],[-1.26,-3.20],[-1.43,-4.60]];

const D_BN = [[3.03,0.83],[2.22,1.09],[1.66,1.30],[1.21,1.55],[0.82,1.59],[0.31,1.63],[-0.31,1.57],[-0.75,1.45],[-1.26,1.23],[-1.60,0.99],[-1.99,0.51],[-2.35,0.13],[-2.55,-0.64],[-2.75,-1.60],[-2.61,-1.62],[-2.41,-2.01]];
const D_NBN = [[3.03,3.10],[2.73,2.77],[2.22,2.19],[1.83,1.66],[1.55,1.14],[1.43,0.85],[1.35,0.42],[1.29,0.01],[0.93,0.01],[0.65,0.18],[0.40,0.46],[0.11,0.75],[-0.17,0.83],[-0.36,0.80],[-0.39,0.32],[-0.36,-0.35],[-0.34,-1.03],[-0.36,-2.01]];
const D_FBN = [[-3.00,-1.84],[-2.61,-1.55],[-1.99,-1.07],[-1.43,-0.55],[-1.03,-0.14],[-0.64,0.22],[-0.19,0.40],[0.14,0.43],[0.54,0.34],[1.21,0.30],[1.94,0.22],[3.03,0.10]];
const D_SUP = [[-0.70,-1.97],[0.26,0.66],[2.11,5.70]];
const D_OURS = [[3.03,2.91],[2.50,2.38],[2.05,1.86],[1.72,1.38],[1.50,0.99],[1.41,0.56],[1.29,0.13],[1.13,-0.05],[0.82,-0.18],[0.57,-0.08],[0.40,0.14],[0.23,0.46],[0.03,0.66],[-0.25,0.70],[-0.50,0.62],[-0.63,0.37],[-0.65,-0.07],[-0.64,-0.45],[-0.81,-0.88],[-0.93,-1.27],[-0.87,-1.78],[-0.64,-1.87],[-0.47,-2.01]];

const E_BN = [[3.03,1.32],[2.21,1.70],[1.48,1.81],[0.81,1.86],[-0.32,1.91],[-1.16,1.81],[-1.66,1.60],[-2.00,1.25],[-2.14,0.88],[-2.20,0.34],[-2.20,-0.22],[-1.89,-0.50],[-1.44,-0.85],[-0.99,-1.27],[-0.32,-1.41],[0.53,-1.48],[1.37,-1.55],[2.21,-1.76],[3.03,-1.97]];
const E_NBN = [[-3.01,-1.83],[-2.28,-1.34],[-1.44,-0.81],[-0.77,-0.36],[-0.48,0.06],[-0.32,0.48],[-0.09,0.76],[0.25,0.74],[0.44,0.46],[0.56,0.06],[0.81,-0.08],[1.15,-0.05],[1.29,0.20],[1.44,0.69],[1.71,1.07],[2.21,1.49],[3.03,2.09]];
const E_FBN = [[3.03,0.76],[1.93,0.62],[0.81,0.51],[-0.03,0.60],[-0.63,0.62],[-0.55,0.34],[-0.54,-0.01],[-0.57,-0.29],[-0.20,-0.99],[0.36,-1.02],[0.92,-1.06],[1.43,-1.13],[2.04,-0.92],[2.38,-0.71],[3.03,-0.75]];
const E_SUP = [[-3.01,-3.09],[0.00,0.08],[3.03,3.28]];
const E_OURS = [[-3.01,-2.91],[-2.28,-2.35],[-1.44,-1.69],[-0.99,-1.20],[-0.77,-0.81],[-0.65,-0.43],[-0.55,-0.01],[-0.50,0.27],[-0.37,0.55],[-0.20,0.71],[-0.05,0.55],[0.25,0.34],[0.53,0.20],[0.81,-0.01],[1.20,-0.01],[1.31,0.34],[1.37,1.07],[1.54,1.49],[1.79,2.16],[2.21,2.75],[3.03,3.98]];

const F_BN = [[4.49,4.25],[3.68,3.45],[2.82,2.59],[2.31,2.19],[1.62,1.92],[0.68,1.79],[-0.09,1.72],[-0.78,1.62],[-1.42,1.39],[-1.63,0.79],[-1.79,0.13],[-1.76,-0.34],[-1.59,-0.67],[-1.25,-1.13],[-0.86,-1.40],[-0.43,-1.44],[0.25,-1.33],[0.77,-1.60],[1.54,-2.06],[2.39,-2.53],[3.34,-3.00],[4.49,-3.26]];
const F_NBN = [[-4.72,-4.41],[-3.60,-3.57],[-2.32,-2.37],[-1.29,-1.47],[-0.90,-1.31],[-0.65,-1.07],[-0.48,-0.67],[-0.43,-0.14],[-0.52,0.20],[-0.35,0.46],[-0.05,0.58],[0.29,0.50],[0.49,0.20],[0.77,-0.11],[1.28,-0.14],[1.28,0.39],[1.30,0.99],[1.62,1.79],[2.10,2.49],[2.52,3.18],[2.87,4.11],[3.21,5.31]];
const F_FBN = [[-3.48,-5.18],[-2.75,-3.92],[-2.06,-2.77],[-1.46,-1.86],[-1.08,-1.31],[-0.85,-0.87],[-0.90,-0.34],[-0.95,0.26],[-0.99,0.82],[-0.90,0.99],[-0.26,0.99],[0.42,0.93],[1.11,0.93],[1.41,1.35],[1.88,2.01],[2.65,3.05],[3.51,4.05],[4.49,5.04]];
const F_SUP = [[-4.72,-4.32],[-3.60,-3.49],[-2.32,-2.29],[-1.46,-1.53],[-0.78,-0.83],[-0.09,-0.07],[0.59,0.69],[1.28,1.53],[1.97,2.39],[2.82,3.32],[3.68,4.18],[4.49,4.71]];
const F_OURS = [[4.49,4.31],[3.68,3.58],[2.82,2.76],[2.22,2.09],[1.88,1.59],[1.52,0.86],[1.47,0.33],[1.28,0.06],[1.02,-0.11],[0.68,-0.07],[0.42,0.13],[0.24,0.37],[0.08,0.55],[-0.13,0.66],[-0.43,0.63],[-0.69,0.40],[-0.78,0.00],[-0.79,-0.80],[-0.65,-1.40],[-0.48,-2.06],[-0.35,-2.86],[-0.26,-3.99],[-0.22,-5.25]];

// ---------------- LAYOUT / STYLE ----------------
const panels = [
  {grid:{left:7,top:2,width:356,height:266}, x:[-3.76,4.58], y:[-4.46,4.17], ood:[].concat(oodA_TL,oodA_TR,oodA_BL,oodA_BR), lines:[A_BN,A_NBN,A_FBN,A_SUP,A_OURS], gap:30},
  {grid:{left:412,top:2,width:357,height:266}, x:[-2.14,3.05], y:[-1.91,2.39], ood:oodB, lines:[B_BN,B_NBN,B_FBN,B_SUP,B_OURS], gap:30},
  {grid:{left:817,top:2,width:357,height:266}, x:[-4.02,4.84], y:[-4.54,5.62], ood:oodC, lines:[C_BN,C_NBN,C_FBN,C_SUP,C_OURS], gap:30},
  {grid:{left:7,top:357,width:356,height:266}, x:[-3.00,3.00], y:[-1.97,5.70], ood:bandTop, lines:[D_BN,D_NBN,D_FBN,D_SUP,D_OURS], gap:32},
  {grid:{left:412,top:357,width:357,height:266}, x:[-3.01,3.02], y:[-5.51,5.67], ood:[].concat(bandTop,bandBottom), lines:[E_BN,E_NBN,E_FBN,E_SUP,E_OURS], gap:32},
  {grid:{left:817,top:357,width:357,height:266}, x:[-4.70,4.48], y:[-5.29,5.31], ood:[].concat(bandTop,bandBottom,bandLeft,bandRight), lines:[F_BN,F_NBN,F_FBN,F_SUP,F_OURS], gap:32}
];
const lineLook = [
  {color:'#4169e1', type:'solid'},
  {color:'#4169e1', type:[9,4]},
  {color:'#9acd32', type:'solid'},
  {color:'#000000', type:'solid'},
  {color:'#ff6347', type:'solid'}
];

const grid = [], xAxis = [], yAxis = [], series = [];
panels.forEach((p, i) => {
  grid.push(Object.assign({show:true, borderColor:'#2a2a2a', borderWidth:1, backgroundColor:'transparent', containLabel:false, outerBoundsMode:'none'}, p.grid));
  xAxis.push({type:'value', gridIndex:i, min:p.x[0], max:p.x[1], name:captions[i], nameLocation:'middle', nameGap:p.gap,
    nameTextStyle:{fontFamily:'Liberation Serif', fontSize:31, color:'#000'},
    axisLine:{show:false}, axisTick:{show:false}, axisLabel:{show:false}, splitLine:{show:false}});
  yAxis.push({type:'value', gridIndex:i, min:p.y[0], max:p.y[1], show:false, splitLine:{show:false}});
  series.push({type:'scatter', name:'Unlabeled-OOD', xAxisIndex:i, yAxisIndex:i, data:p.ood, symbol:'triangle', symbolRotate:180, symbolSize:7,
    itemStyle:{color:'rgba(220,196,162,0.85)', borderColor:'rgba(105,82,60,0.85)', borderWidth:0.7}, z:1, silent:true});
  series.push({type:'scatter', name:'Unlabeled-ID', xAxisIndex:i, yAxisIndex:i, data:moonUpper.concat(moonLower), symbol:'circle', symbolSize:8,
    itemStyle:{color:'rgba(120,120,120,0.58)', borderColor:'rgba(20,20,20,0.5)', borderWidth:0.8}, z:2, silent:true});
  series.push({type:'scatter', name:'Labeled', xAxisIndex:i, yAxisIndex:i, data:labeledPts, symbol:'circle', symbolSize:11,
    itemStyle:{color:'rgba(225,100,80,0.75)', borderColor:'rgba(60,25,15,0.85)', borderWidth:1}, z:3, silent:true});
  p.lines.forEach((arr, k) => {
    series.push({type:'line', name:methodNames[k], xAxisIndex:i, yAxisIndex:i, data:arr, symbol:'none', showSymbol:false, smooth:0.25,
      lineStyle:{color:lineLook[k].color, width:2.6, type:lineLook[k].type}, itemStyle:{color:lineLook[k].color}, z:4, silent:true, clip:true});
  });
});

const solidIcon = 'path://M0,0h27v3h-27z';
const dashIcon = 'path://M0,0h9v3h-9zM13,0h9v3h-9zM26,0h1v3h-1z';
const downTriangle = 'path://M0,0L10,0L5,8.66Z';
const legTxt = {fontFamily:'DejaVu Sans', fontSize:13, color:'#000', lineHeight:14};
const legend = [
  {data:[{name:'SSL-BN', icon:solidIcon},{name:'SSL-NBN', icon:dashIcon},{name:'SSL-FBN', icon:solidIcon}], orient:'vertical', left:101, top:197, padding:[4,150,7,6],
   itemWidth:27, itemHeight:3, itemGap:6, backgroundColor:'rgba(255,255,255,0.8)', borderColor:'#cccccc', borderWidth:1, borderRadius:4, selectedMode:false, z:10,
   textStyle:Object.assign({padding:[0,0,0,8]}, legTxt)},
  {data:[{name:'Supervised', icon:solidIcon},{name:'Ours', icon:solidIcon}], orient:'vertical', left:234, top:201, padding:0, itemWidth:27, itemHeight:3, itemGap:6, selectedMode:false, z:11,
   textStyle:Object.assign({padding:[0,0,0,8]}, legTxt)},
  {data:['Labeled'], orient:'vertical', left:418, top:9, padding:[5,63,46,14], itemWidth:12, itemHeight:12, selectedMode:false, z:10,
   backgroundColor:'rgba(255,255,255,0.8)', borderColor:'#cccccc', borderWidth:1, borderRadius:4, textStyle:Object.assign({padding:[0,0,0,15]}, legTxt)},
  {data:['Unlabeled-ID'], orient:'vertical', left:435, top:35, padding:0, itemWidth:5, itemHeight:5, selectedMode:false, z:11, textStyle:Object.assign({padding:[0,0,0,19]}, legTxt)},
  {data:[{name:'Unlabeled-OOD', icon:downTriangle}], orient:'vertical', left:435, top:55, padding:0, itemWidth:7, itemHeight:7, selectedMode:false, z:11, textStyle:Object.assign({padding:[0,0,0,17]}, legTxt)}
];

const chart = echarts.init(document.getElementById('chart'), null, {renderer:'canvas'});
chart.setOption({animation:false, backgroundColor:'#ffffff', grid, xAxis, yAxis, series, legend});
</script></body></html>
